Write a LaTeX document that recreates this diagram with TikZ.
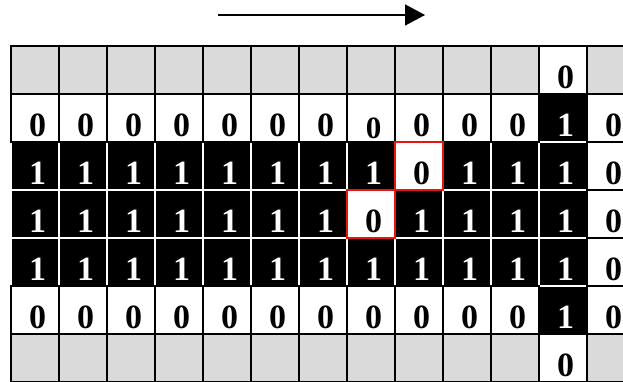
\documentclass[tikz,border=0pt]{standalone}
\usepackage{fontspec}
\setmainfont{Liberation Serif}
\usetikzlibrary{arrows.meta}
\definecolor{cellgray}{RGB}{218,218,218}
\definecolor{boxred}{RGB}{230,20,20}
\begin{document}
\begin{tikzpicture}[x=1pt,y=-1pt,
  cellbase/.style={rectangle,inner sep=0pt,outer sep=0pt,minimum width=48pt,minimum height=48pt,line width=1.3pt},
  cell-g/.style={cellbase,fill=cellgray,draw=black},
  cell-w/.style={cellbase,fill=white,draw=black},
  cell-s/.style={cellbase,fill=white,draw=black},
  cell-R/.style={cellbase,fill=white,draw=black},
  cell-B/.style={cellbase,fill=black,draw=white},
  border-g/.style={draw=black,line width=1.3pt},
  border-w/.style={draw=black,line width=1.3pt},
  border-s/.style={draw=black,line width=1.3pt},
  border-B/.style={draw=none},
  border-R/.style={draw=boxred,line width=2pt},
  digit/.style={anchor=base,inner sep=0pt,font=\fontsize{34}{34}\selectfont\bfseries},
  txt-g/.style={digit,node contents={}},
  txt-w/.style={digit,text=black,node contents={0}},
  txt-s/.style={digit,font=\fontsize{31}{31}\selectfont\bfseries,text=black,yshift=-2pt,node contents={0}},
  txt-R/.style={digit,text=black,node contents={0}},
  txt-B/.style={digit,text=white,node contents={1}},
  flowarrow/.style={line width=1.6pt,-{Triangle[length=20pt,width=21pt]}}
]
\useasboundingbox (0,0) rectangle (623,382);
\clip (0,0) rectangle (623,382);
\def\gridrows{{g,g,g,g,g,g,g,g,g,g,g,w,g},
  {w,w,w,w,w,w,w,s,w,w,w,B,w},
  {B,B,B,B,B,B,B,B,R,B,B,B,w},
  {B,B,B,B,B,B,B,R,B,B,B,B,w},
  {B,B,B,B,B,B,B,B,B,B,B,B,w},
  {w,w,w,w,w,w,w,w,w,w,w,B,w},
  {g,g,g,g,g,g,g,g,g,g,g,w,g}}
% cells
\foreach \row [count=\r] in \gridrows {
  \foreach \t [count=\c] in \row {
    \node[cell-\t] (c-\r-\c) at ({35+48*(\c-1)},{70+48*(\r-1)}) {};
  }
}
% borders of light cells on top
\foreach \row [count=\r] in \gridrows {
  \foreach \t [count=\c] in \row {
    \path[border-\t] (c-\r-\c.south west) rectangle (c-\r-\c.north east);
  }
}
% digits
\foreach \row [count=\r] in \gridrows {
  \foreach \t [count=\c] in \row {
    \node (t-\r-\c) at ({37.5+48*(\c-1)},{40.5+48*\r}) [txt-\t];
  }
}
% arrow
\coordinate (arrS) at (218,15);
\coordinate (arrE) at (425,15);
\draw[flowarrow] (arrS) -- (arrE);
\end{tikzpicture}
\end{document}
